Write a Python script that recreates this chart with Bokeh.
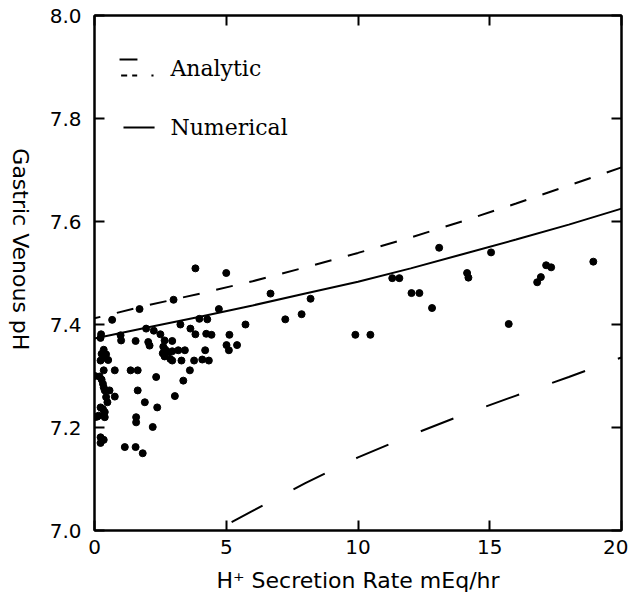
import math
from bokeh.plotting import figure
from bokeh.layouts import row
from bokeh.models import FixedTicker, LinearAxis, Label, Range1d
from bokeh.embed import file_html
from bokeh.resources import INLINE

# ---------------- data ----------------
x_ticks = [0, 5, 10, 15, 20]
x_tick_labels = ["0", "5", "10", "15", "20"]
y_ticks = [7.0, 7.2, 7.4, 7.6, 7.8, 8.0]
y_tick_labels = ["7.0", "7.2", "7.4", "7.6", "7.8", "8.0"]

# Numerical model (solid)
num_x = [0, 2, 4, 6, 8, 10, 12, 14, 16, 18, 20]
num_y = [7.373, 7.394, 7.415, 7.437, 7.460, 7.483, 7.509, 7.537, 7.565, 7.594, 7.625]

# Analytic model, upper branch (short dashes)
ana_up_x = [0, 2, 4, 6, 8, 10, 12, 14, 16, 18, 20]
ana_up_y = [7.412, 7.437, 7.460, 7.484, 7.511, 7.539, 7.569, 7.601, 7.635, 7.670, 7.705]

# Analytic model, lower branch (long dashes)
ana_lo_x = [4.6, 6, 8, 10, 12, 14, 16, 18, 20]
ana_lo_y = [7.0, 7.038, 7.092, 7.142, 7.185, 7.225, 7.262, 7.298, 7.336]

# Measured gastric venous pH vs H+ secretion rate
obs_x = [5.0, 4.72, 6.68, 4.28, 3.98, 5.73, 8.20, 7.24, 7.86, 9.90, 10.47, 11.3, 11.57,
         4.24, 4.44, 5.12, 4.2, 5.01, 5.1, 5.41, 4.09, 4.34,
         13.08, 15.05, 12.03, 12.33, 12.81, 14.14, 14.19, 15.72, 17.14, 17.33, 16.94, 16.8,
         18.93, 3.83,
         0.67, 1.71, 3.0, 0.25, 0.99, 1.96, 2.25, 2.5, 3.26, 3.64, 3.83,
         1.01, 1.56, 2.04, 2.09, 2.66, 2.95,
         2.61, 2.69, 2.59, 2.82, 2.95, 2.66, 2.88, 3.18, 3.43,
         2.95, 3.3, 3.78,
         0.35, 0.77, 1.37, 1.64,
         1.64, 0.57, 0.77, 2.34, 3.37, 3.62, 3.05, 1.91, 2.38, 1.58, 1.58, 2.21, 1.15, 1.56, 1.83,
         0.23, 0.35, 0.27, 0.44, 0.42, 0.52, 0.23, 0.19, 0.27, 0.32, 0.35, 0.39, 0.44, 0.49,
         0.23, 0.32, 0.39, 0.16, 0.10, 0.39, 0.23, 0.35, 0.23, 0.02, 0.0]
obs_y = [7.50, 7.43, 7.46, 7.41, 7.411, 7.40, 7.45, 7.41, 7.42, 7.38, 7.38, 7.49, 7.49,
         7.382, 7.38, 7.38, 7.35, 7.36, 7.35, 7.36, 7.332, 7.33,
         7.549, 7.54, 7.461, 7.461, 7.432, 7.50, 7.491, 7.401, 7.515, 7.511, 7.492, 7.482,
         7.522, 7.509,
         7.409, 7.430, 7.448, 7.381, 7.379, 7.392, 7.388, 7.381, 7.400, 7.392, 7.381,
         7.369, 7.368, 7.366, 7.359, 7.369, 7.368,
         7.357, 7.351, 7.344, 7.346, 7.348, 7.338, 7.333, 7.350, 7.350,
         7.330, 7.330, 7.330,
         7.311, 7.311, 7.311, 7.311,
         7.272, 7.272, 7.260, 7.298, 7.291, 7.311, 7.261, 7.249, 7.239, 7.220, 7.210, 7.201, 7.162, 7.162, 7.150,
         7.374, 7.351, 7.343, 7.342, 7.335, 7.331, 7.330, 7.299, 7.293, 7.285, 7.278, 7.272, 7.259, 7.249,
         7.239, 7.236, 7.230, 7.223, 7.221, 7.220, 7.181, 7.176, 7.170, 7.30, 7.22]

FONT_AX = "DejaVu Sans"
Y_TITLE = "Gastric Venous pH"
X_TITLE = "H\u207a Secretion Rate mEq/hr"

# ---------------- main figure ----------------
p = figure(frame_width=527, frame_height=515,
           x_range=Range1d(0, 20), y_range=Range1d(7.0, 8.0),
           output_backend="svg", toolbar_location=None,
           min_border_left=54, min_border_right=7, min_border_top=15, min_border_bottom=69)
p.xgrid.visible = False
p.ygrid.visible = False
p.outline_line_color = "black"
p.outline_line_width = 2
p.background_fill_color = "white"
p.border_fill_color = "white"


def style_axis(ax, labels):
    ax.major_tick_in = 10
    ax.major_tick_out = 0
    ax.minor_tick_in = 0
    ax.minor_tick_out = 0
    ax.major_tick_line_width = 2
    ax.major_tick_line_color = "black"
    ax.axis_line_width = 2
    ax.axis_line_color = "black"
    if not labels:
        ax.major_label_text_font_size = "0px"
        ax.major_label_standoff = 0


xa = p.xaxis[0]
xa.ticker = FixedTicker(ticks=x_ticks)
xa.major_label_overrides = {t: l for t, l in zip(x_ticks, x_tick_labels)}
style_axis(xa, True)
xa.major_label_text_font = FONT_AX
xa.major_label_text_font_size = "20px"
xa.major_label_text_color = "black"
xa.major_label_standoff = 9
xa.axis_label = X_TITLE
xa.axis_label_text_font = FONT_AX
xa.axis_label_text_font_size = "22px"
xa.axis_label_text_font_style = "normal"
xa.axis_label_text_color = "black"
xa.axis_label_standoff = 11

ya = p.yaxis[0]
ya.ticker = FixedTicker(ticks=y_ticks)
ya.major_label_overrides = {t: l for t, l in zip(y_ticks, y_tick_labels)}
style_axis(ya, True)
ya.major_label_text_font = FONT_AX
ya.major_label_text_font_size = "20px"
ya.major_label_text_color = "black"
ya.major_label_standoff = 13

ra = LinearAxis(ticker=FixedTicker(ticks=y_ticks))
style_axis(ra, False)
p.add_layout(ra, "right")
ta = LinearAxis(ticker=FixedTicker(ticks=x_ticks))
style_axis(ta, False)
p.add_layout(ta, "above")

# ---------------- data marks ----------------
p.line(num_x, num_y, line_color="black", line_width=2)
p.line(ana_up_x, ana_up_y, line_color="black", line_width=2, line_dash="17 17", line_dash_offset=11)
p.line(ana_lo_x, ana_lo_y, line_color="black", line_width=2, line_dash="35 35", line_dash_offset=52)
p.scatter(obs_x, obs_y, size=7, fill_color="black", line_color="black")

# ---------------- legend (decoration) ----------------
p.segment(x0=[0.95, 1.01, 1.43, 2.16, 1.10], y0=[7.9146, 7.8835, 7.8835, 7.8835, 7.7825],
          x1=[1.63, 1.24, 1.62, 2.24, 2.28], y1=[7.9146, 7.8835, 7.8835, 7.8835, 7.7825],
          line_color="black", line_width=2)
for txt, yy in (("Analytic", 7.897), ("Numerical", 7.7825)):
    p.add_layout(Label(x=2.88, y=yy, text=txt, text_baseline="middle", text_align="left",
                       text_font="DejaVu Serif", text_font_size="22px", text_color="black"))

# ---------------- y-axis title panel (reads top to bottom) ----------------
q = figure(width=40, height=599, x_range=Range1d(0, 1), y_range=Range1d(0, 1),
           output_backend="svg", toolbar_location=None,
           x_axis_location=None, y_axis_location=None,
           min_border=0, min_border_left=0, min_border_right=0,
           min_border_top=0, min_border_bottom=0)
q.outline_line_color = None
q.grid.visible = False
q.background_fill_color = "white"
q.border_fill_color = "white"
q.add_layout(Label(x=0.5, y=1 - 272 / 599, text=Y_TITLE, angle=-math.pi / 2,
                   text_align="center", text_baseline="middle",
                   text_font=FONT_AX, text_font_size="22px", text_color="black"))

layout = row(q, p)
open("out.html", "w").write(file_html(layout, INLINE))
